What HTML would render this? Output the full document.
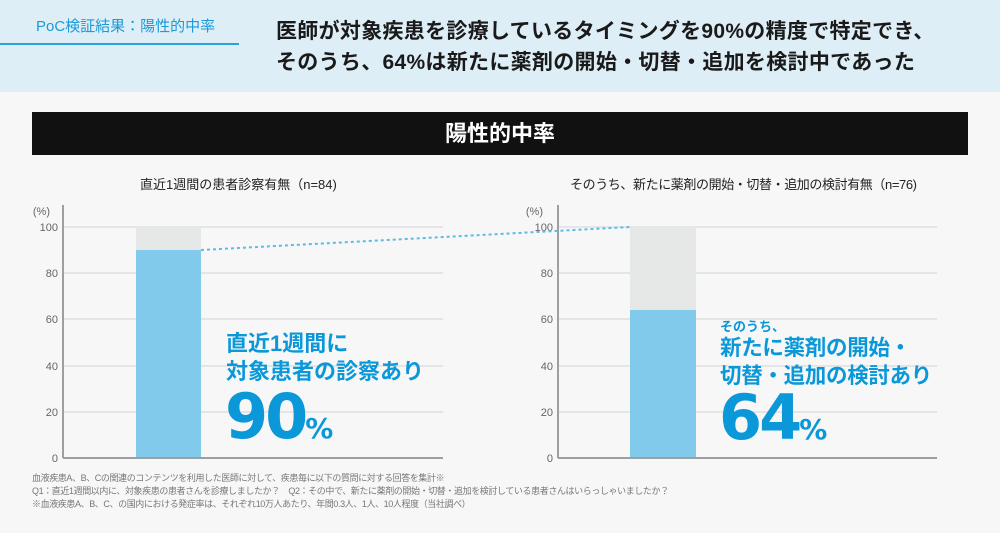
<!DOCTYPE html>
<html><head><meta charset="utf-8"><style>
*{margin:0;padding:0;box-sizing:border-box}
body{width:1000px;height:533px;background:#f7f7f7;font-family:"Liberation Sans","Noto Sans CJK JP",sans-serif;position:relative;overflow:hidden}
.a{position:absolute;white-space:nowrap}
.b{color:#0a98d9;font-weight:bold}
</style></head><body>
<div class="a" style="left:0;top:0;width:1000px;height:92px;background:#deeef6"></div>
<div class="a" style="left:36px;top:15px;font-size:15px;color:#1a9ad8">PoC検証結果：陽性的中率</div>
<div class="a" style="left:0;top:43px;width:239px;height:2px;background:#2aa3dc"></div>
<div class="a" style="left:276px;top:16px;font-size:21px;font-weight:bold;color:#1a1a1a;line-height:31px;letter-spacing:0.3px">医師が対象疾患を診療しているタイミングを90%の精度で特定でき、<br>そのうち、64%は新たに薬剤の開始・切替・追加を検討中であった</div>
<div class="a" style="left:32px;top:112px;width:936px;height:43px;background:#111;color:#fff;font-size:22px;font-weight:bold;text-align:center;line-height:43px">陽性的中率</div>
<div class="a" style="left:140px;top:174px;font-size:13px;color:#222">直近1週間の患者診察有無（n=84)</div>
<div class="a" style="left:570px;top:174px;font-size:13px;color:#222;letter-spacing:-0.4px">そのうち、新たに薬剤の開始・切替・追加の検討有無（n=76)</div>
<svg class="a" style="left:0;top:0" width="1000" height="533">
<g font-size="11" fill="#666" font-family="Liberation Sans,sans-serif" text-anchor="end">
<text x="50" y="215">(%)</text><text x="543" y="215">(%)</text>
<g stroke="#cfd3d4" stroke-width="1">
<line x1="63" y1="227" x2="443" y2="227"/><line x1="63" y1="273" x2="443" y2="273"/><line x1="63" y1="319" x2="443" y2="319"/><line x1="63" y1="366" x2="443" y2="366"/><line x1="63" y1="412" x2="443" y2="412"/>
<line x1="558" y1="227" x2="937" y2="227"/><line x1="558" y1="273" x2="937" y2="273"/><line x1="558" y1="319" x2="937" y2="319"/><line x1="558" y1="366" x2="937" y2="366"/><line x1="558" y1="412" x2="937" y2="412"/>
</g>
<text x="58" y="231">100</text><text x="58" y="277">80</text><text x="58" y="323">60</text><text x="58" y="370">40</text><text x="58" y="416">20</text><text x="58" y="462">0</text>
<text x="553" y="231">100</text><text x="553" y="277">80</text><text x="553" y="323">60</text><text x="553" y="370">40</text><text x="553" y="416">20</text><text x="553" y="462">0</text>
</g>
<rect x="136" y="227" width="65" height="231" fill="#e6e8e8"/>
<rect x="136" y="250" width="65" height="208" fill="#82caec"/>
<rect x="630" y="227" width="66" height="231" fill="#e6e8e8"/>
<rect x="630" y="310" width="66" height="148" fill="#82caec"/>
<line x1="201" y1="250" x2="630" y2="227" stroke="#5bbbe6" stroke-width="2" stroke-dasharray="3,3"/>
<g stroke="#9aa0a3" stroke-width="2">
<line x1="63" y1="205" x2="63" y2="458"/><line x1="63" y1="458" x2="443" y2="458"/>
<line x1="558" y1="205" x2="558" y2="458"/><line x1="558" y1="458" x2="937" y2="458"/>
</g>
</svg>
<div class="a b" style="left:226px;top:330px;font-size:22px;line-height:28px">直近1週間に<br>対象患者の診察あり</div>
<div class="a b" style="left:225px;top:382px;font-size:62px;line-height:70px;font-family:'DejaVu Sans',sans-serif;letter-spacing:-3px">90<span style="font-size:28px;letter-spacing:0">%</span></div>
<div class="a b" style="left:720px;top:316px;font-size:13px">そのうち、</div>
<div class="a b" style="left:720px;top:334px;font-size:21.5px;line-height:28px;letter-spacing:-0.3px">新たに薬剤の開始・<br>切替・追加の検討あり</div>
<div class="a b" style="left:719px;top:383px;font-size:62px;line-height:70px;font-family:'DejaVu Sans',sans-serif;letter-spacing:-3px">64<span style="font-size:28px;letter-spacing:0">%</span></div>
<div class="a" style="left:32px;top:472px;font-size:9px;color:#777;line-height:13px;letter-spacing:-0.4px">血液疾患A、B、Cの関連のコンテンツを利用した医師に対して、疾患毎に以下の質問に対する回答を集計※<br>Q1：直近1週間以内に、対象疾患の患者さんを診療しましたか？　Q2：その中で、新たに薬剤の開始・切替・追加を検討している患者さんはいらっしゃいましたか？<br>※血液疾患A、B、C、の国内における発症率は、それぞれ10万人あたり、年間0.3人、1人、10人程度（当社調べ）</div>
</body></html>
